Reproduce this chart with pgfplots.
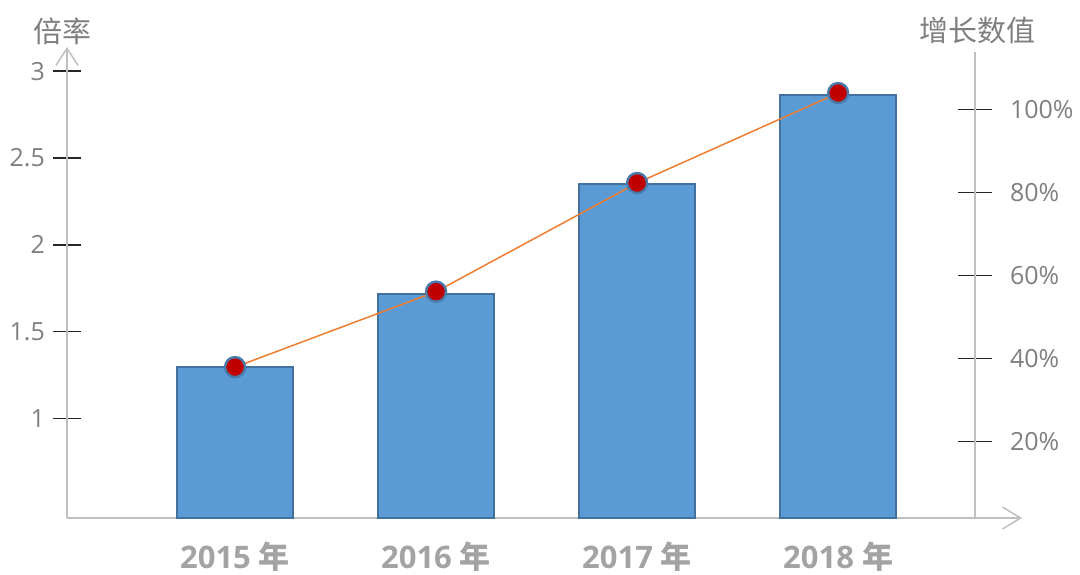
\documentclass[border=0pt]{standalone}
\usepackage{fontspec}
\setmainfont{Open Sans}
\newfontfamily\cjk{Noto Sans CJK SC}
\usepackage{pgfplots}
\pgfplotsset{compat=1.18}
\usetikzlibrary{arrows.meta}

\definecolor{axisgray}{HTML}{BFBFBF}
\definecolor{tickcol}{HTML}{262626}
\definecolor{labelgray}{HTML}{7F7F7F}
\definecolor{xlabgray}{HTML}{A3A3A3}
\definecolor{barblue}{HTML}{5B9BD5}
\definecolor{bardark}{HTML}{41719C}
\definecolor{lineorange}{HTML}{ED7D31}
\definecolor{markred}{HTML}{C00000}
\definecolor{markborder}{HTML}{4A7AAA}

\begin{document}
\begin{tikzpicture}
\path[use as bounding box] (-33.5pt,-28pt) rectangle (506.5pt,259pt);

% bars: 倍率 (left axis)
\begin{axis}[
    at={(0,0)}, anchor=south west,
    scale only axis, width=477.5pt, height=235.5pt,
    xmin=-0.836, xmax=3.915, ymin=0.426, ymax=3.139,
    axis x line*=bottom, axis y line*=left,
    x axis line style={draw=axisgray, line width=0.75pt, -{Straight Barb[length=9pt,width=11pt]}},
    y axis line style={draw=axisgray, line width=0.75pt, -{Straight Barb[length=8.5pt,width=11pt]}},
    xtick={0,1,2,3},
    xticklabels={2015 {\cjk 年}, 2016 {\cjk 年}, 2017 {\cjk 年}, 2018 {\cjk 年}},
    xtick style={draw=none},
    xticklabel style={font=\bfseries\fontsize{15.5}{15.5}\selectfont, text=xlabgray, yshift=5.5pt},
    ytick={1,1.5,2,2.5,3},
    yticklabels={1,1.5,2,2.5,3},
    tick align=center, major tick length=14pt,
    ytick style={draw=tickcol, line width=0.8pt},
    yticklabel style={font=\fontsize{12.5}{12.5}\selectfont, text=labelgray, xshift=-0.5pt},
    ylabel={\cjk 倍率},
    ylabel style={rotate=-90, at={(rel axis cs:0,1)}, anchor=south, inner sep=0pt,
        xshift=-2pt, yshift=1pt, font=\fontsize{14.5}{14.5}\selectfont, text=labelgray},
    ybar, bar width=0.58,
]
\addplot[fill=barblue, draw=bardark, line width=1pt]
    coordinates {(0,1.296)(1,1.716)(2,2.350)(3,2.862)};
\end{axis}

% line: 增长数值 (right axis)
\begin{axis}[
    at={(0,0)}, anchor=south west,
    scale only axis, width=454pt, height=233pt,
    xmin=-0.836, xmax=3.681, ymin=1.5, ymax=113.9,
    axis x line=none, axis y line*=right,
    y axis line style={draw=axisgray, line width=0.75pt, -},
    ytick={20,40,60,80,100},
    yticklabels={20\%,40\%,60\%,80\%,100\%},
    tick align=center, major tick length=17pt,
    ytick style={draw=tickcol, line width=0.8pt},
    yticklabel style={font=\fontsize{12.5}{12.5}\selectfont, text=labelgray, xshift=5.5pt},
    ylabel={\cjk 增长数值},
    ylabel style={rotate=-90, at={(rel axis cs:1,1)}, anchor=south, inner sep=0pt,
        xshift=1pt, yshift=4pt, font=\fontsize{14.5}{14.5}\selectfont, text=labelgray},
    clip=false,
]
\addplot[draw=lineorange, line width=0.75pt, mark=*, mark size=5pt,
    mark options={fill=markred, draw=markborder, line width=1.2pt}]
    coordinates {(0,37.9)(1,56.1)(2,82.3)(3,104.0)};
\end{axis}
\end{tikzpicture}
\end{document}
